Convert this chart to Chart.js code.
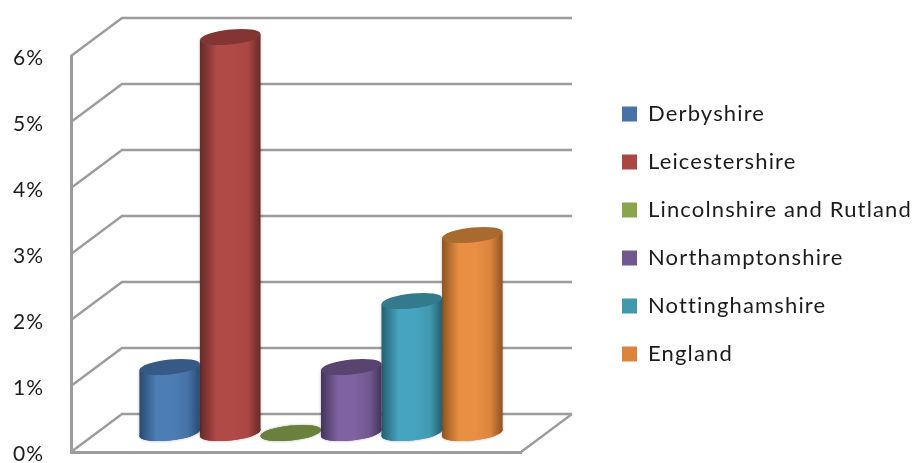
<!DOCTYPE html>
<html>
<head>
<meta charset="utf-8">
<style>
    html, body { margin: 0; padding: 0; background: #fff; }
    #wrap { width: 912px; height: 463px; }
</style>
<script src="https://cdn.jsdelivr.net/npm/chart.js@4"></script>
</head>
<body>
<div id="wrap"><canvas id="grafica"></canvas></div>
<script>
const categorias = [""];
const condados = ["Derbyshire", "Leicestershire", "Lincolnshire and Rutland", "Northamptonshire", "Nottinghamshire", "England"];
const valores = [1, 6, 0, 1, 2, 3];
const colores = ["#4572a7", "#aa4643", "#89a54e", "#71588f", "#4198af", "#db843d"];
const coloresCentro = ["#4c7eb5", "#b04a47", "#95b355", "#7f62a2", "#46a4c0", "#e88f42"];
const coloresBorde = ["#2a4a70", "#652a28", "#55682f", "#44345a", "#255f70", "#8f5420"];
const coloresTapa = ["#365a85", "#823533", "#6b803c", "#59436f", "#337a8c", "#a96a30"];

// Profundidad de la caja 3D y media profundidad para los cilindros
const fondoX = 51, fondoY = 38;
const inclinacion = -0.1;
const radioTapa = 7.5;
const colorRejilla = "#9c9c9c";

const caja3d = {
    id: "caja3d",
    afterLayout(chart) {
        // la leyenda va separada de la gráfica, a la altura del original
        const ley = chart.legend;
        ley.left = 596;
        ley.width = 316;
        ley.right = ley.left + ley.width;
        ley.top -= 20;
        ley.bottom -= 20;
    },
    beforeDraw(chart) {
        chart.ctx.letterSpacing = "1.15px";
    },
    beforeDatasetsDraw(chart) {
        const { ctx, scales, chartArea } = chart;
        const izq = chartArea.left, der = chartArea.right;
        ctx.save();
        ctx.strokeStyle = colorRejilla;
        ctx.lineWidth = 2.4;
        scales.y.ticks.forEach(t => {
            const y = scales.y.getPixelForValue(t.value);
            ctx.beginPath();
            ctx.moveTo(izq, y);
            ctx.lineTo(izq + fondoX, y - fondoY);
            ctx.lineTo(der + fondoX, y - fondoY);
            ctx.stroke();
        });
        // borde derecho del piso
        const y0 = scales.y.getPixelForValue(0);
        ctx.beginPath();
        ctx.moveTo(der + fondoX, y0 - fondoY);
        ctx.lineTo(der, y0);
        ctx.stroke();
        ctx.restore();
    },
    beforeDatasetDraw(chart, args) {
        const { ctx } = chart;
        const barra = args.meta.data[0];
        const i = args.index;
        const mitad = barra.width / 2;
        const g = ctx.createLinearGradient(barra.x - mitad, 0, barra.x + mitad, 0);
        g.addColorStop(0, coloresBorde[i]);
        g.addColorStop(0.28, coloresCentro[i]);
        g.addColorStop(0.55, coloresCentro[i]);
        g.addColorStop(0.8, colores[i]);
        g.addColorStop(1, coloresBorde[i]);
        barra.options.backgroundColor = g;
        ctx.save();
        // los cilindros van a media profundidad y ligeramente inclinados
        ctx.translate(50 / 2, -fondoY / 2);
        ctx.transform(1, inclinacion, 0, 1, 0, -inclinacion * barra.x);
        ctx.shadowColor = "rgba(0,0,0,0.3)";
        ctx.shadowBlur = 3;
        ctx.fillStyle = g;
        ctx.beginPath();
        ctx.ellipse(barra.x, barra.base, mitad, radioTapa, 0, 0, Math.PI * 2);
        ctx.fill();
    },
    afterDatasetDraw(chart, args) {
        const { ctx } = chart;
        const barra = args.meta.data[0];
        ctx.shadowColor = "transparent";
        // se repite la base para tapar la sombra de la barra
        ctx.fillStyle = barra.options.backgroundColor;
        ctx.beginPath();
        ctx.ellipse(barra.x, barra.base, barra.width / 2, radioTapa, 0, 0, Math.PI * 2);
        ctx.fill();
        ctx.fillStyle = coloresTapa[args.index];
        ctx.beginPath();
        ctx.ellipse(barra.x, barra.y, barra.width / 2, radioTapa, 0, 0, Math.PI * 2);
        ctx.fill();
        ctx.restore();
    },
};

new Chart(document.getElementById("grafica"), {
    type: "bar",
    data: {
        labels: categorias,
        datasets: condados.map((nombre, i) => ({
            label: nombre,
            data: [valores[i]],
            backgroundColor: colores[i],
            borderWidth: 0,
            clip: false,
        })),
    },
    plugins: [caja3d],
    options: {
        responsive: true,
        maintainAspectRatio: false,
        animation: false,
        categoryPercentage: 0.807,
        barPercentage: 1,
        layout: { padding: { top: 56, left: 13, bottom: 11, right: 291 } },
        plugins: {
            tooltip: { enabled: false },
            legend: {
                position: "right",
                maxWidth: 100,
                labels: {
                    color: "#1c1c1c",
                    font: { family: "Lato", size: 22 },
                    boxWidth: 15,
                    boxHeight: 15,
                    padding: 26,
                },
            },
        },
        scales: {
            x: {
                grid: { display: false, drawTicks: false },
                border: { color: colorRejilla, width: 3 },
                ticks: { display: false },
                afterFit(escala) { escala.height = 0; },
            },
            y: {
                min: 0,
                max: 6,
                grid: { display: false, drawTicks: false },
                border: { color: colorRejilla, width: 3 },
                ticks: {
                    stepSize: 1,
                    padding: 0,
                    crossAlign: "far",
                    labelOffset: 2,
                    color: "#1c1c1c",
                    font: { family: "Lato", size: 21, lineHeight: 1 },
                    callback: v => v + "%",
                },
                afterFit(escala) { escala.width = 58; },
            },
        },
    },
});
</script>
</body>
</html>
